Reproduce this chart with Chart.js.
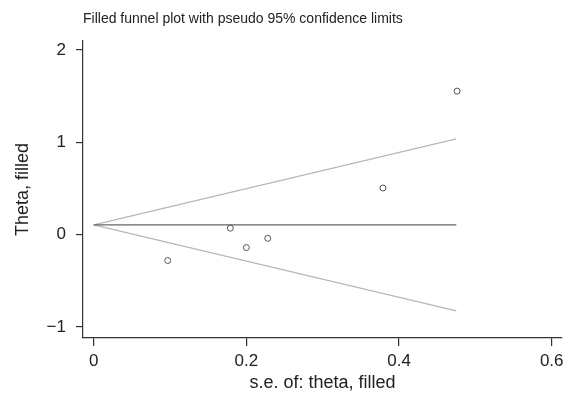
<!DOCTYPE html>
<html>
<head>
<meta charset="utf-8">
<script src="https://cdn.jsdelivr.net/npm/chart.js@4.4.0/dist/chart.umd.min.js"></script>
<style>
  html, body { margin: 0; padding: 0; background: #fff; }
  #wrap { width: 574px; height: 396px; position: relative; }
</style>
</head>
<body>
<div id="wrap"><canvas id="funnel"></canvas></div>
<script>
// study estimates
const seValues = [0.097, 0.179, 0.200, 0.228, 0.379, 0.476];
const thetaValues = [-0.28, 0.07, -0.14, -0.04, 0.505, 1.555];

// pooled estimate and pseudo 95% limits (end points)
const funnelSE = [0, 0.475];
const pooledTheta = [0.105, 0.105];
const upperLimit = [0.105, 1.037];
const lowerLimit = [0.105, -0.827];

const xTicks = [0, 0.2, 0.4, 0.6];
const yTicks = [-1, 0, 1, 2];

const pairs = (xs, ys) => xs.map((x, i) => ({x: x, y: ys[i]}));
const FONT = "'Liberation Sans', Arial, Helvetica, sans-serif";
const AXIS = '#333';

let config = {
  type: 'scatter',
  data: {
    datasets: [
      {
        label: 'studies',
        data: pairs(seValues, thetaValues),
        pointStyle: 'circle',
        pointRadius: 3,
        pointBorderWidth: 1,
        pointBorderColor: '#555',
        pointBackgroundColor: 'rgba(0,0,0,0)',
        showLine: false
      },
      {
        label: 'pooled',
        data: pairs(funnelSE, pooledTheta),
        showLine: true, pointRadius: 0,
        borderColor: '#666', borderWidth: 1.2
      },
      {
        label: 'upper',
        data: pairs(funnelSE, upperLimit),
        showLine: true, pointRadius: 0,
        borderColor: '#b8b8b8', borderWidth: 1.2
      },
      {
        label: 'lower',
        data: pairs(funnelSE, lowerLimit),
        showLine: true, pointRadius: 0,
        borderColor: '#b8b8b8', borderWidth: 1.2
      }
    ]
  },
  options: {
    responsive: true,
    maintainAspectRatio: false,
    animation: false,
    layout: { padding: { left: 0, right: 12, top: 0, bottom: 0 } },
    plugins: {
      legend: { display: false },
      tooltip: { enabled: false },
      title: {
        display: true,
        text: 'Filled funnel plot with pseudo 95% confidence limits',
        align: 'start',
        fullSize: false,
        color: '#222',
        font: { family: FONT, size: 14, weight: 'normal' },
        padding: { top: 11, bottom: 13 }
      }
    },
    scales: {
      x: {
        type: 'linear',
        min: -0.014,
        max: 0.6135,
        afterBuildTicks: s => { s.ticks = xTicks.map(v => ({value: v})); },
        afterFit: s => { s.height = 58; },
        border: { display: true, color: AXIS, width: 1.2 },
        grid: { drawOnChartArea: false, drawTicks: true, tickLength: 8, color: AXIS, lineWidth: 1.2 },
        ticks: { color: '#222', padding: 5, maxRotation: 0, font: { family: FONT, size: 17 } },
        title: {
          display: true,
          text: 's.e. of: theta, filled',
          color: '#222',
          font: { family: FONT, size: 18 },
          padding: { top: 2, bottom: 2 }
        }
      },
      y: {
        type: 'linear',
        min: -1.12,
        max: 2.1,
        afterBuildTicks: s => { s.ticks = yTicks.map(v => ({value: v})); },
        afterFit: s => { s.width = 83; },
        border: { display: true, color: AXIS, width: 1.2 },
        grid: { drawOnChartArea: false, drawTicks: true, tickLength: 7, color: AXIS, lineWidth: 1.2 },
        ticks: {
          color: '#222', padding: 10,
          font: { family: FONT, size: 17 },
          callback: v => String(v).replace('-', '\u2212')
        },
        title: {
          display: true,
          text: 'Theta, filled',
          color: '#222',
          font: { family: FONT, size: 18 },
          padding: { top: 12, bottom: 2 }
        }
      }
    }
  }
};

new Chart(document.getElementById('funnel').getContext('2d'), config);
</script>
</body>
</html>
